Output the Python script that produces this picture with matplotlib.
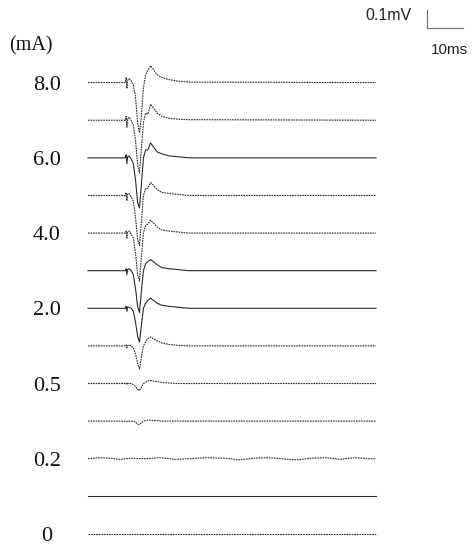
import numpy as np
import matplotlib
matplotlib.use("Agg")
import matplotlib.pyplot as plt

# stimulus intensities (mA), top to bottom; empty string = unlabeled trace
labels = ["8.0", "", "6.0", "", "4.0", "", "2.0", "", "0.5", "", "0.2", "", "0"]

# sample times (ms) shared by the evoked traces
t_ms = [0, 10.4, 10.6, 10.8, 11.0, 11.4, 12.0, 12.6, 13.2, 13.8, 14.3, 14.8,
        15.4, 16.0, 16.6, 17.4, 18.2, 19.2, 20.5, 22.5, 25.0, 28.0, 80.0]

# amplitudes (mV), one list per trace
tr_80 = [0, 0, .028, -.033, .011, .022, .011, -.011, -.083, -.222, -.278, -.194,
         -.028, .044, .067, .094, .072, .044, .028, .017, .008, .003, 0]
tr_70 = [0, 0, .022, -.039, .006, .017, 0, -.028, -.111, -.25, -.294, -.167,
         -.011, .039, .033, .089, .067, .039, .022, .011, .006, .003, 0]
tr_60 = [0, 0, .017, -.033, .006, .011, -.006, -.033, -.122, -.25, -.278, -.156,
         0, .044, .044, .083, .061, .033, .022, .011, .006, 0, 0]
tr_50 = [0, 0, .017, -.028, .006, .011, -.006, -.033, -.122, -.244, -.278, -.156,
         0, .039, .039, .072, .056, .033, .017, .011, .006, 0, 0]
tr_40 = [0, 0, .011, -.028, .006, .011, -.006, -.028, -.111, -.233, -.267, -.144,
         0, .044, .05, .072, .056, .033, .017, .011, .006, 0, 0]
tr_30 = [0, 0, .011, -.022, .006, .011, 0, -.022, -.1, -.2, -.233, -.122,
         0, .039, .05, .061, .05, .033, .017, .011, .006, 0, 0]
tr_20 = [0, 0, .011, -.017, .006, .006, 0, -.017, -.078, -.156, -.189, -.1,
         0, .028, .044, .056, .044, .028, .017, .011, .006, 0, 0]
tr_10 = [0, 0, .006, -.011, 0, .006, 0, -.011, -.044, -.1, -.128, -.067,
         0, .022, .039, .05, .039, .028, .017, .008, .003, 0, 0]
tr_05 = [0, 0, .003, -.006, 0, 0, 0, -.006, -.017, -.033, -.039, -.022,
         0, .008, .014, .017, .014, .011, .006, .003, 0, 0, 0]
tr_03 = [0, 0, 0, -.003, 0, 0, 0, 0, -.006, -.017, -.019, -.011,
         0, .003, .006, .006, .003, .003, 0, 0, 0, 0, 0]
tr_01 = [0] * len(t_ms)
tr_00 = [0] * len(t_ms)

# 0.2 mA trace: baseline noise only
t_noise = [0, 3, 6, 9, 12, 16, 20, 24, 28, 33, 38, 42, 46, 50, 54, 58, 62, 66,
           70, 74, 78, 80]
tr_02 = [0, .006, .003, -.003, .003, 0, .006, -.003, 0, .006, .003, -.006,
         .003, .006, 0, -.006, .003, .006, -.003, .006, 0, 0]

traces = [(t_ms, tr_80), (t_ms, tr_70), (t_ms, tr_60), (t_ms, tr_50),
          (t_ms, tr_40), (t_ms, tr_30), (t_ms, tr_20), (t_ms, tr_10),
          (t_ms, tr_05), (t_ms, tr_03), (t_noise, tr_02), (t_ms, tr_01),
          (t_ms, tr_00)]
dotted = [True, True, False, True, True, False, False, True, True, True,
          True, False, True]

spacing = 0.209  # mV between baselines
n = len(traces)

fig = plt.figure(figsize=(4.75, 5.45), dpi=100)
ax = fig.add_axes([0, 0, 1, 1])
ax.set_xlim(-24.44, 107.5)
ax.set_ylim(-0.0611, 2.967)
ax.axis("off")

for i, ((tt, yy), lab, dot) in enumerate(zip(traces, labels, dotted)):
    off = (n - 1 - i) * spacing
    ls = (0, (1.5, 0.8)) if dot else "-"
    ax.plot(tt, np.array(yy) + off, color="#2a2a2a", lw=0.8, ls=ls)
    if lab:
        ax.text(-11.4, off, lab, ha="center", va="center_baseline",
                fontsize=16, family="Liberation Serif", color="#111111")

ax.text(-15.8, 2.728, "(mA)", ha="center", va="center_baseline",
        fontsize=14.5, family="Liberation Serif", color="#111111")

# scale bar: 0.1 mV / 10 ms
bx, by = 94.2, 2.811
ax.plot([bx, bx, bx + 10], [by + 0.1, by, by], color="#777777", lw=0.9)
ax.text(bx - 4.2, by + 0.072, "0.1mV", ha="right", va="center",
        fontsize=11.5, family="Liberation Sans", color="#222222")
ax.text(bx + 6.3, by - 0.122, "10ms", ha="center", va="center",
        fontsize=11, family="Liberation Sans", color="#222222")

fig.savefig("out.png", dpi=100)
